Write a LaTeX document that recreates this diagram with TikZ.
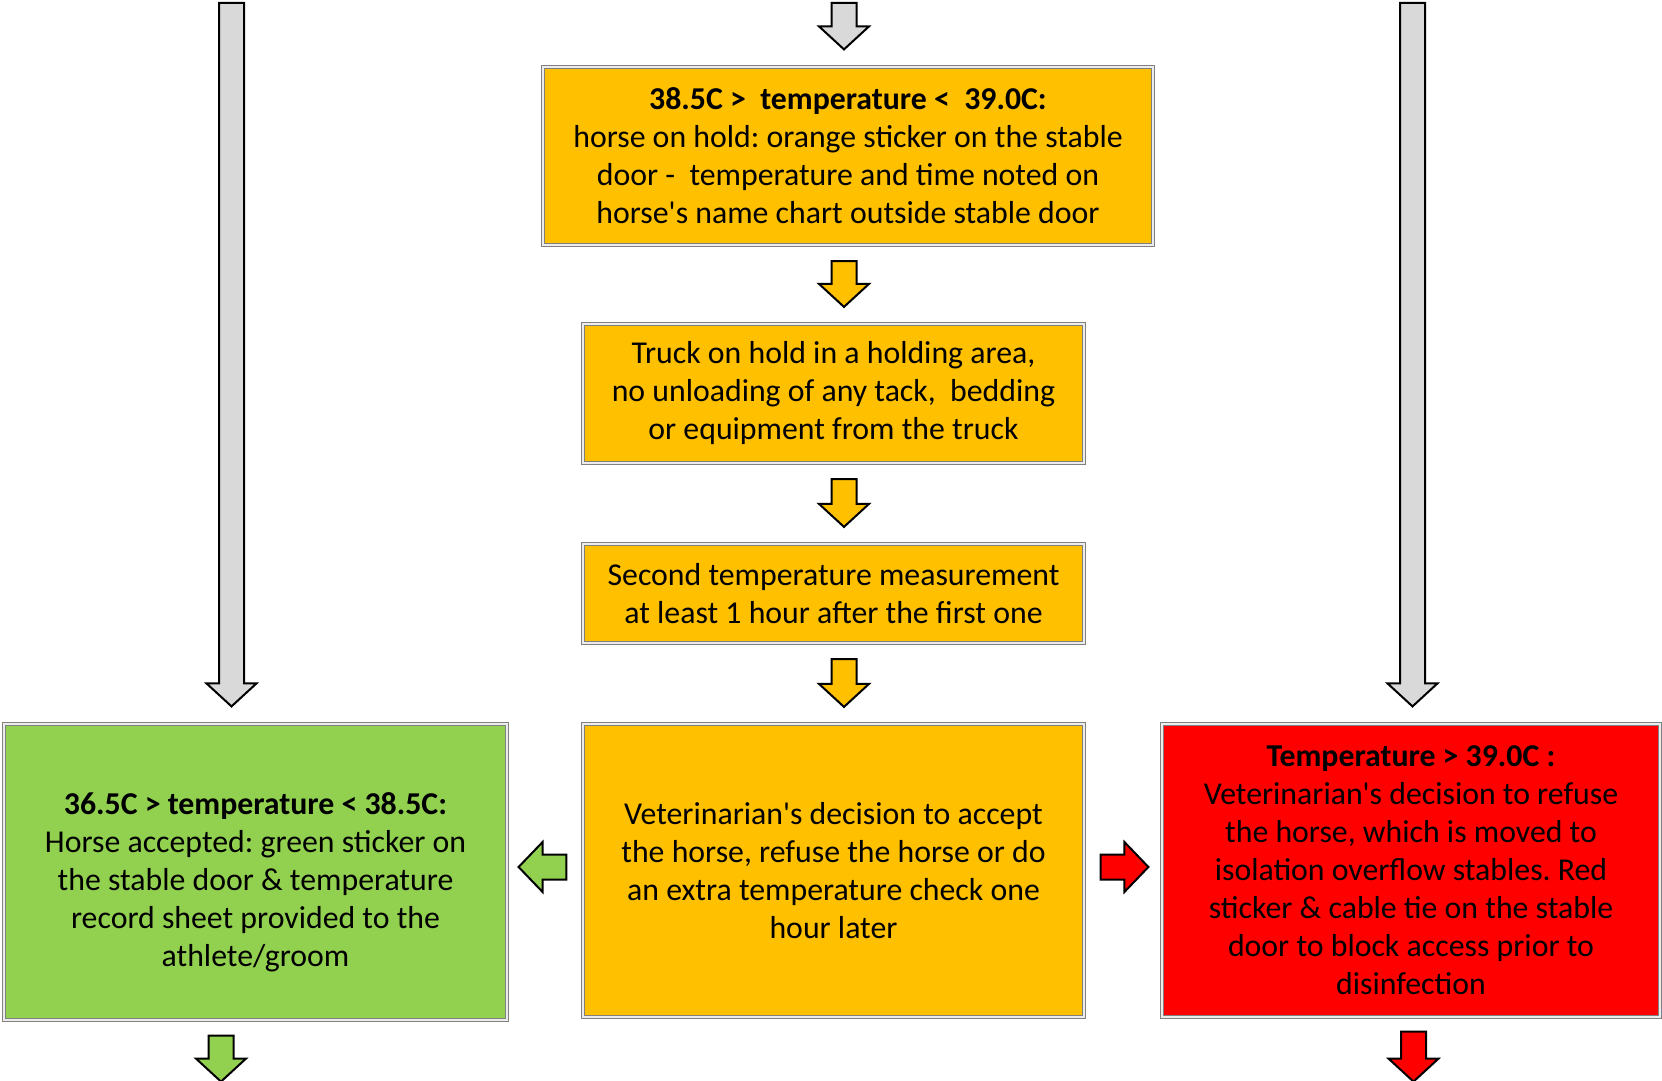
\documentclass[tikz,border=0pt]{standalone}
\usepackage{fontspec}
\setmainfont{Carlito}
\usetikzlibrary{calc}
\frenchspacing

\definecolor{holdorange}{HTML}{FFC000}
\definecolor{okgreen}{HTML}{92D050}
\definecolor{refusered}{HTML}{FF0000}
\definecolor{arrgray}{HTML}{D9D9D9}

\tikzset{
  stepbox/.style={draw=gray, double=gray!15, double distance=0.7pt, line width=0.6pt,
    align=center, inner sep=0pt, font=\fontsize{15.9}{19}\selectfont},
  blockarr/.style={draw=black, line width=1pt, line join=miter},
}

% block arrow going down: #1 top of shaft, #2 tip
\newcommand{\downblock}[3]{%
\draw[blockarr, fill=#3] ($(#1)+(-12.5,0)$) -- ($(#1)+(12.5,0)$) -- ($(#2)+(12.5,-23)$)
  -- ($(#2)+(25,-23)$) -- (#2) -- ($(#2)+(-25,-23)$) -- ($(#2)+(-12.5,-23)$) -- cycle;}
% block arrow going sideways: #1 end of shaft, #2 tip, #3 offset of head base
\newcommand{\sideblock}[4]{%
\draw[blockarr, fill=#4] ($(#1)+(0,-12.5)$) -- ($(#2)+(#3,-12.5)$) -- ($(#2)+(#3,-25)$)
  -- (#2) -- ($(#2)+(#3,25)$) -- ($(#2)+(#3,12.5)$) -- ($(#1)+(0,12.5)$) -- cycle;}
\newcommand{\apos}{\textquotesingle}

\begin{document}
\begin{tikzpicture}[x=0.5pt, y=-0.5pt]
\useasboundingbox (0,0) rectangle (1662,1081);

% boxes
\node[stepbox, fill=holdorange, minimum width=305pt, minimum height=89pt] (hold) at (848,156)
  {\textbf{38.5C >\ \ temperature <\ \ 39.0C:}\\horse on hold: orange sticker on the stable\\
   door -\ \ temperature and time noted on\\horse\apos s name chart outside stable door};
\node[stepbox, fill=holdorange, minimum width=250.5pt, minimum height=69.5pt] (truck) at (833.5,393.5)
  {Truck on hold in a holding area,\\no unloading of any tack,\ \ bedding\\or equipment from the truck};
\node[stepbox, fill=holdorange, minimum width=250.5pt, minimum height=49.5pt] (second) at (833.5,593.5)
  {Second temperature measurement\\at least 1 hour after the first one};
\node[stepbox, fill=holdorange, minimum width=250.5pt, minimum height=146.5pt] (vet) at (833.5,870.5)
  {Veterinarian\apos s decision to accept\\the horse, refuse the horse or do\\
   an extra temperature check one\\hour later};
\node[stepbox, fill=okgreen, minimum width=251.5pt, minimum height=148pt] (accept) at (255.5,872)
  {\rule{0pt}{21.5pt}\textbf{36.5C > temperature < 38.5C:}\\Horse accepted: green sticker on\\
   the stable door \& temperature\\record sheet provided to the\\athlete/groom};
\node[stepbox, fill=refusered, minimum width=249pt, minimum height=146.5pt] (refuse) at (1411,870.5)
  {\textbf{Temperature > 39.0C :}\\Veterinarian\apos s decision to refuse\\
   the horse, which is moved to\\isolation overflow stables. Red\\
   sticker \& cable tie on the stable\\door to block access prior to\\disinfection};

% arrow ends
\coordinate (col) at (844,3);
\coordinate (lcol) at (231.5,3);
\coordinate (rcol) at (1412.5,3);
\coordinate (col-tip) at ($(hold.north -| col)+(0,-17)$);
\coordinate (lcol-tip) at ($(accept.north -| lcol)+(0,-17)$);
\coordinate (rcol-tip) at ($(refuse.north -| rcol)+(0,-17)$);
\coordinate (g-start) at ($(vet.west)+(-16,-3.5)$);
\coordinate (g-tip) at ($(g-start -| accept.east)+(11,0)$);
\coordinate (r-start) at ($(vet.east)+(16,-3.5)$);
\coordinate (r-tip) at ($(r-start -| refuse.west)+(-13,0)$);
\coordinate (gd-start) at ($(accept.south)+(-34.5,15)$);
\coordinate (gd-tip) at ($(gd-start)+(0,46)$);
\coordinate (rd-start) at ($(refuse.south)+(2.5,14)$);
\coordinate (rd-tip) at ($(rd-start)+(0,50)$);

% incoming gray arrows
\downblock{col}{col-tip}{arrgray}
\downblock{lcol}{lcol-tip}{arrgray}
\downblock{rcol}{rcol-tip}{arrgray}

% orange chain
\foreach \a/\b in {hold/truck, truck/second, second/vet}{
  \coordinate (\a-out) at ($(\a.south -| col)+(0,15.5)$);
  \coordinate (\b-in) at ($(\b.north -| col)+(0,-16.5)$);
  \downblock{\a-out}{\b-in}{holdorange}
}

% decisions
\sideblock{g-start}{g-tip}{24}{okgreen}
\sideblock{r-start}{r-tip}{-24}{refusered}
\downblock{gd-start}{gd-tip}{okgreen}
\downblock{rd-start}{rd-tip}{refusered}
\end{tikzpicture}
\end{document}
